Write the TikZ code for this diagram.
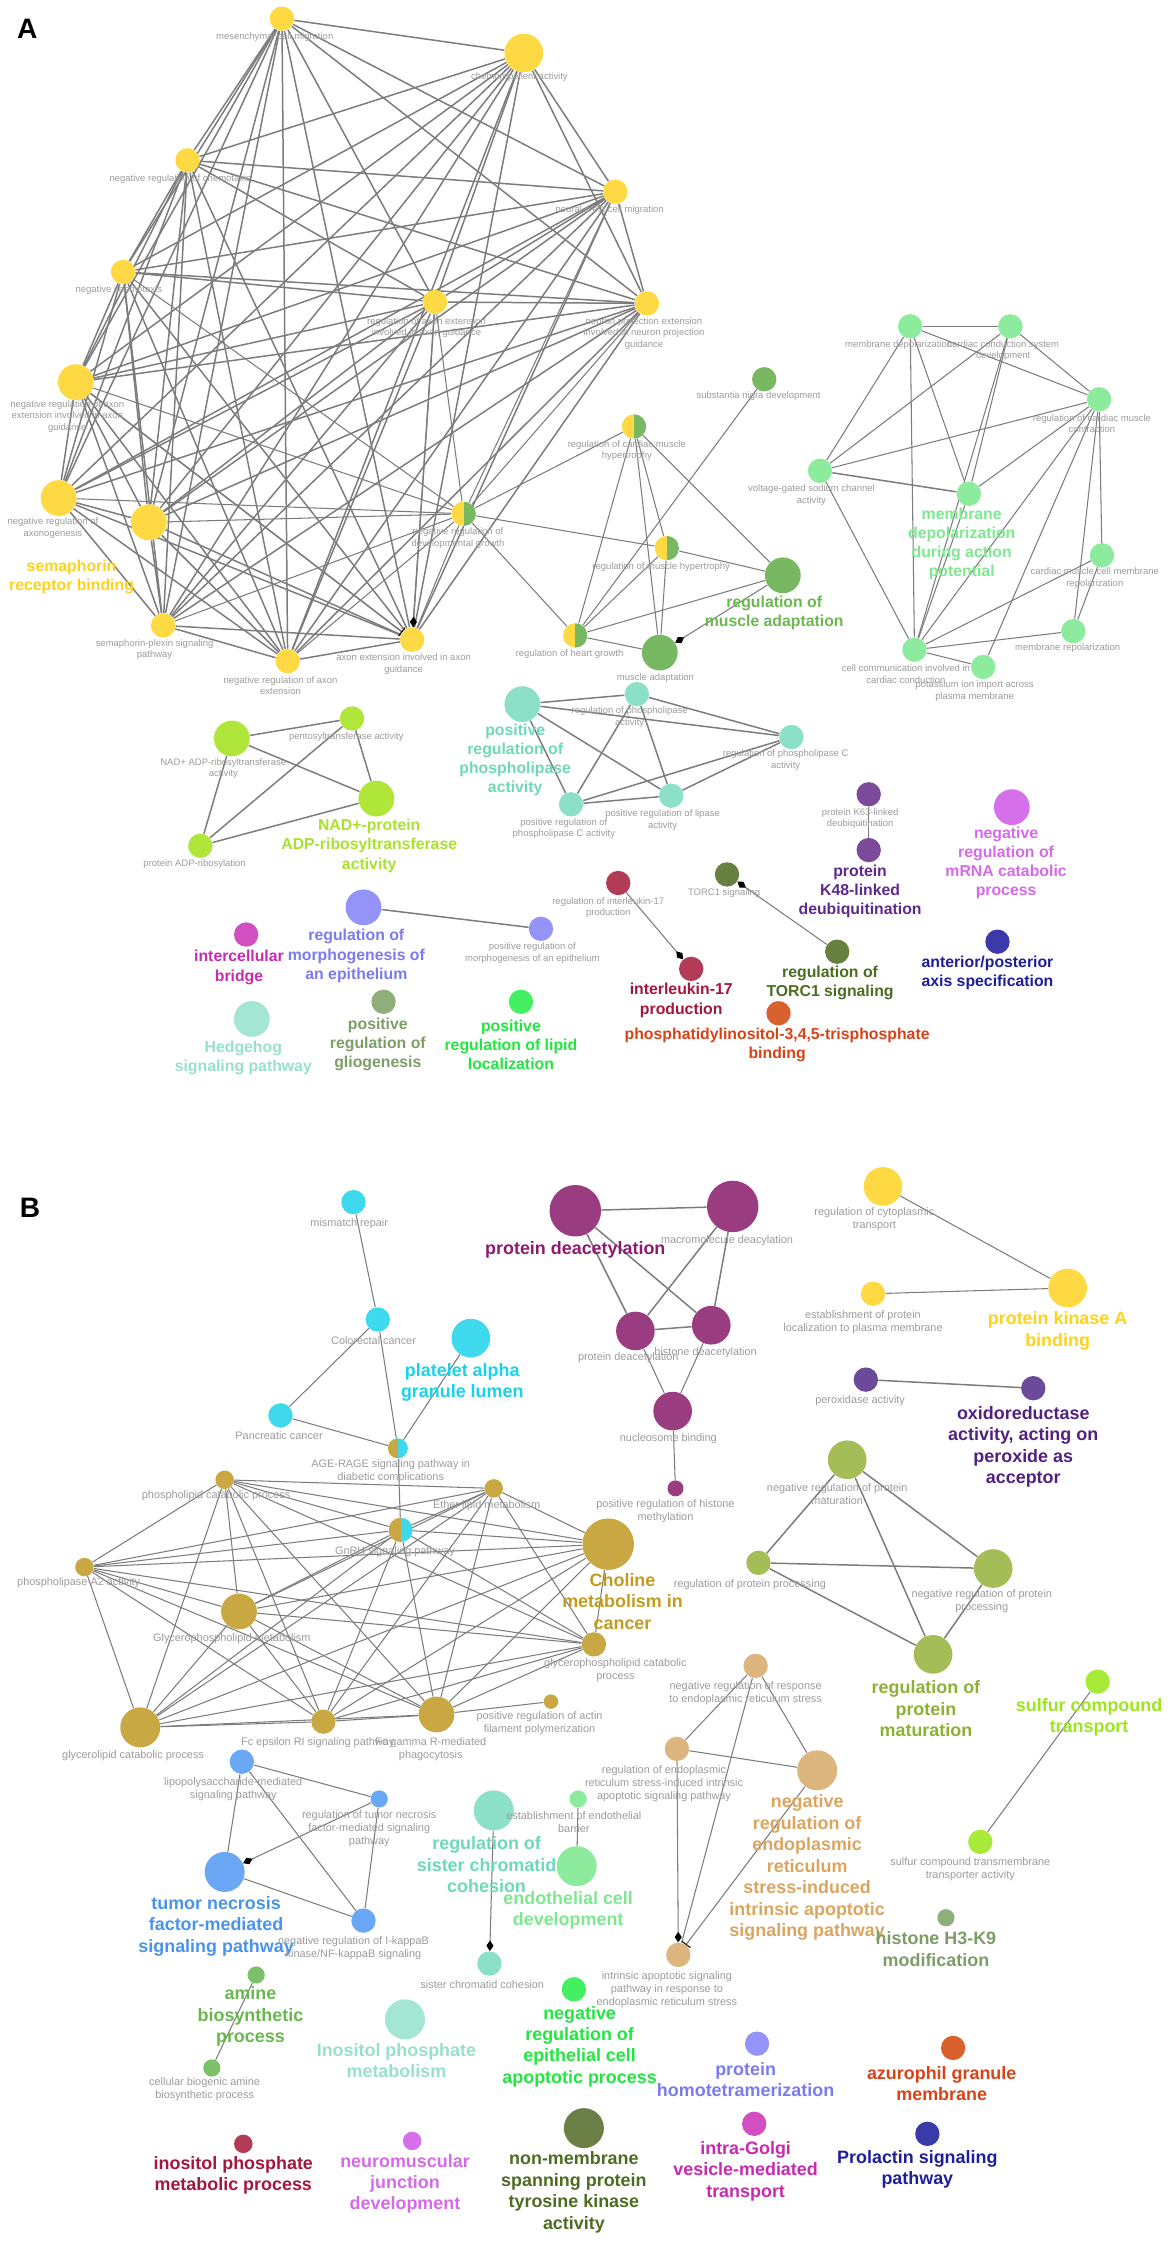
\documentclass[tikz,border=0pt]{standalone}
\usepackage{fontspec}
\setmainfont{Liberation Sans}
\usetikzlibrary{arrows.meta,backgrounds}

\definecolor{edgegray}{HTML}{7C7C7C}
\definecolor{lblgray}{HTML}{9B9B9B}
\definecolor{yel}{HTML}{FFD944}
\definecolor{yelT}{HTML}{FFD21A}
\definecolor{dgr}{HTML}{78B862}
\definecolor{dgrT}{HTML}{6CB850}
\definecolor{lgr}{HTML}{8CEB9C}
\definecolor{lgrT}{HTML}{7DE890}
\definecolor{lim}{HTML}{B0E63A}
\definecolor{limT}{HTML}{A8E22C}
\definecolor{tea}{HTML}{8DE0C8}
\definecolor{teaT}{HTML}{6ED8B8}
\definecolor{kpu}{HTML}{7B4A9B}
\definecolor{kpuT}{HTML}{5B2A8A}
\definecolor{mag}{HTML}{D670EA}
\definecolor{magT}{HTML}{D46AE8}
\definecolor{crm}{HTML}{B23C57}
\definecolor{crmT}{HTML}{A3163D}
\definecolor{olv}{HTML}{66803F}
\definecolor{olvT}{HTML}{4E6B22}
\definecolor{org}{HTML}{D9612E}
\definecolor{orgT}{HTML}{D94216}
\definecolor{nav}{HTML}{3A3AA8}
\definecolor{navT}{HTML}{1E1E99}
\definecolor{per}{HTML}{9393F8}
\definecolor{perT}{HTML}{7B7BEE}
\definecolor{pnk}{HTML}{D14FC0}
\definecolor{pnkT}{HTML}{C72AAE}
\definecolor{hhc}{HTML}{A3E6D3}
\definecolor{hhcT}{HTML}{97E0CB}
\definecolor{ggr}{HTML}{8FAE7C}
\definecolor{ggrT}{HTML}{7C9D66}
\definecolor{brg}{HTML}{44F062}
\definecolor{brgT}{HTML}{22E640}
\definecolor{cyn}{HTML}{3FD9EE}
\definecolor{cynT}{HTML}{18D2EA}
\definecolor{pdp}{HTML}{9A3D80}
\definecolor{pdpT}{HTML}{8C1A6E}
\definecolor{ppu}{HTML}{6B4A9A}
\definecolor{ppuT}{HTML}{52207F}
\definecolor{pmg}{HTML}{A4BD56}
\definecolor{pmgT}{HTML}{8DB035}
\definecolor{gld}{HTML}{C9A843}
\definecolor{gldT}{HTML}{C29C1E}
\definecolor{blu}{HTML}{6AA8F5}
\definecolor{bluT}{HTML}{4A93EA}
\definecolor{tan}{HTML}{DDB57F}
\definecolor{tanT}{HTML}{D9A560}
\definecolor{slf}{HTML}{A8EA3A}
\definecolor{slfT}{HTML}{9CE61E}
\definecolor{ami}{HTML}{7CC06A}
\definecolor{amiT}{HTML}{68B84E}
\definecolor{nmp}{HTML}{6C7F47}

\begin{document}
\begin{tikzpicture}[x=0.02863cm,y=-0.02863cm,
	go/.style={circle,inner sep=0pt,fill=#1},
	hgo/.style 2 args={circle,inner sep=0pt,path picture={
		\fill[#1] (path picture bounding box.south west) rectangle (path picture bounding box.north);
		\fill[#2] (path picture bounding box.south) rectangle (path picture bounding box.north east);}},
	nXS/.style={minimum size=0.344cm},nS/.style={minimum size=0.487cm},
	nM/.style={minimum size=0.716cm},nL/.style={minimum size=0.773cm},nXL/.style={minimum size=1.03cm},
	sa/.style={font=\fontsize{5.4}{6.5}\selectfont,text=lblgray,align=center,inner sep=0pt},
	sb/.style={font=\fontsize{6.2}{7.4}\selectfont,text=lblgray,align=center,inner sep=0pt},
	ba/.style={font=\fontsize{9}{10.9}\selectfont\bfseries,text=#1,align=center,inner sep=0pt},
	bb/.style={font=\fontsize{10.2}{12.2}\selectfont\bfseries,text=#1,align=center,inner sep=0pt},
	lnk/.style={draw=edgegray,line width=0.6pt},
	lnkb/.style={draw=edgegray,line width=0.85pt},
	act/.style={lnk,-{Diamond[black,length=6pt,width=4pt]}},
	inh/.style={lnk,-{Bar[black,width=6pt]}}]
	
	\useasboundingbox (0,0) rectangle (818,1568);
	
	% ---------- panel A
	\node[font=\fontsize{16}{18}\selectfont\bfseries] (pA) at (19,20) {A};
	
	\node[go=yel,nS] (mcm) at (197,13) {};
	\node[go=yel,nL] (cra) at (366,37) {};
	\node[go=yel,nS] (nrc) at (131,112) {};
	\node[go=yel,nS] (ncm) at (430,134) {};
	\node[go=yel,nS] (nch) at (86,190) {};
	\node[go=yel,nS] (rae) at (304,211) {};
	\node[go=yel,nS] (npe) at (452,212) {};
	\node[go=yel,nM] (nraeg) at (53,267) {};
	\node[go=yel,nM] (nrax) at (41,348) {};
	\node[go=yel,nM] (srb) at (104,365) {};
	\node[go=yel,nS] (spp) at (114,437) {};
	\node[go=yel,nS] (nrae) at (201,462) {};
	\node[go=yel,nS] (aeg) at (288,447) {};
	\node[hgo={yel}{dgr},nS] (nrdg) at (324,359) {};
	\node[hgo={yel}{dgr},nS] (rcmh) at (443,298) {};
	\node[hgo={yel}{dgr},nS] (rmh) at (466,383) {};
	\node[hgo={yel}{dgr},nS] (rhg) at (402,444) {};
	\node[go=dgr,nS] (snd) at (534,265) {};
	\node[go=dgr,nM] (rma) at (547,402) {};
	\node[go=dgr,nM] (ma) at (461,456) {};
	
	\node[sa] (lmcm) at (192,26) {mesenchymal cell migration};
	\node[sa] (lcra) at (363,54) {chemorepellent activity};
	\node[sa] (lnrc) at (126,125) {negative regulation of chemotaxis};
	\node[sa] (lncm) at (426,147) {neural crest cell migration};
	\node[sa] (lnch) at (83,203) {negative chemotaxis};
	\node[sa] (lrae) at (298,229) {regulation of axon extension\\involved in axon guidance};
	\node[sa] (lnpe) at (450,233) {neuron projection extension\\involved in neuron projection\\guidance};
	\node[sa] (lnraeg) at (47,291) {negative regulation of axon\\extension involved in axon\\guidance};
	\node[sa] (lnrax) at (37,369) {negative regulation of\\axonogenesis};
	\node[ba=yelT] (lsrb) at (50,403) {semaphorin\\receptor binding};
	\node[sa] (lnrdg) at (320,376) {negative regulation of\\developmental growth};
	\node[sa] (lspp) at (108,454) {semaphorin-plexin signaling\\pathway};
	\node[sa] (lnrae) at (196,479) {negative regulation of axon\\extension};
	\node[sa] (laeg) at (282,464) {axon extension involved in axon\\guidance};
	\node[sa] (lrcmh) at (438,315) {regulation of cardiac muscle\\hypertrophy};
	\node[sa] (lrmh) at (462,396) {regulation of muscle hypertrophy};
	\node[sa] (lrhg) at (398,457) {regulation of heart growth};
	\node[sa] (lsnd) at (530,277) {substantia nigra development};
	\node[ba=dgrT] (lrma) at (541,428) {regulation of\\muscle adaptation};
	\node[sa] (lma) at (458,474) {muscle adaptation};
	
	\node[go=lgr,nS] (md) at (636,228) {};
	\node[go=lgr,nS] (ccs) at (706,228) {};
	\node[go=lgr,nS] (rcmc) at (768,279) {};
	\node[go=lgr,nS] (vgs) at (573,329) {};
	\node[go=lgr,nS] (mdap) at (677,345) {};
	\node[go=lgr,nS] (cmr) at (770,388) {};
	\node[go=lgr,nS] (mr) at (750,441) {};
	\node[go=lgr,nS] (ccc) at (639,454) {};
	\node[go=lgr,nS] (pii) at (687,466) {};
	
	\node[sa] (lmd) at (628,241) {membrane depolarization};
	\node[sa] (lccs) at (701,245) {cardiac conduction system\\development};
	\node[sa] (lrcmc) at (763,296) {regulation of cardiac muscle\\contraction};
	\node[sa] (lvgs) at (567,346) {voltage-gated sodium channel\\activity};
	\node[ba=lgrT] (lmdap) at (672,380) {membrane\\depolarization\\during action\\potential};
	\node[sa] (lcmr) at (765,404) {cardiac muscle cell membrane\\repolarization};
	\node[sa] (lmr) at (746,453) {membrane repolarization};
	\node[sa] (lccc) at (633,471) {cell communication involved in\\cardiac conduction};
	\node[sa] (lpii) at (681,483) {potassium ion import across\\plasma membrane};
	
	\node[go=lim,nM] (nad) at (162,516) {};
	\node[go=lim,nS] (pta) at (246,502) {};
	\node[go=lim,nM] (nadp) at (263,558) {};
	\node[go=lim,nS] (par) at (140,591) {};
	\node[sa] (lnad) at (156,537) {NAD+ ADP-ribosyltransferase\\activity};
	\node[sa] (lpta) at (242,515) {pentosyltransferase activity};
	\node[ba=limT] (lnadp) at (258,591) {NAD+-protein\\ADP-ribosyltransferase\\activity};
	\node[sa] (lpar) at (136,604) {protein ADP-ribosylation};
	
	\node[go=tea,nM] (prpl) at (365,492) {};
	\node[go=tea,nS] (rpl) at (445,485) {};
	\node[go=tea,nS] (rplc) at (553,515) {};
	\node[go=tea,nS] (prplc) at (399,562) {};
	\node[go=tea,nS] (prla) at (469,556) {};
	\node[ba=teaT] (lprpl) at (360,531) {positive\\regulation of\\phospholipase\\activity};
	\node[sa] (lrpl) at (440,501) {regulation of phospholipase\\activity};
	\node[sa] (lrplc) at (549,531) {regulation of phospholipase C\\activity};
	\node[sa] (lprplc) at (394,579) {positive regulation of\\phospholipase C activity};
	\node[sa] (lprla) at (463,573) {positive regulation of lipase\\activity};
	
	\node[go=kpu,nS] (k63) at (607,555) {};
	\node[go=kpu,nS] (k48) at (607,594) {};
	\node[sa] (lk63) at (601,572) {protein K63-linked\\deubiquitination};
	\node[ba=kpuT] (lk48) at (601,623) {protein\\K48-linked\\deubiquitination};
	\node[go=mag,nM] (mrna) at (707,564) {};
	\node[ba=magT] (lmrna) at (703,603) {negative\\regulation of\\mRNA catabolic\\process};
	\node[go=crm,nS] (ril) at (432,617) {};
	\node[go=crm,nS] (il) at (483,677) {};
	\node[sa] (lril) at (425,634) {regulation of interleukin-17\\production};
	\node[ba=crmT] (lil) at (476,699) {interleukin-17\\production};
	\node[go=olv,nS] (torc) at (508,611) {};
	\node[go=olv,nS] (rtorc) at (585,665) {};
	\node[sa] (ltorc) at (506,624) {TORC1 signaling};
	\node[ba=olvT] (lrtorc) at (580,687) {regulation of\\TORC1 signaling};
	\node[go=org,nS] (pip) at (544,708) {};
	\node[ba=orgT] (lpip) at (543,730) {phosphatidylinositol-3,4,5-trisphosphate\\binding};
	\node[go=nav,nS] (aps) at (697,658) {};
	\node[ba=navT] (laps) at (690,680) {anterior/posterior\\axis specification};
	\node[go=per,nM] (rme) at (254,634) {};
	\node[go=per,nS] (prme) at (378,649) {};
	\node[ba=perT] (lrme) at (249,668) {regulation of\\morphogenesis of\\an epithelium};
	\node[sa] (lprme) at (372,666) {positive regulation of\\morphogenesis of an epithelium};
	\node[go=pnk,nS] (icb) at (172,653) {};
	\node[ba=pnkT] (licb) at (167,676) {intercellular\\bridge};
	\node[go=hhc,nM] (hh) at (176,712) {};
	\node[ba=hhcT] (lhh) at (170,739) {Hedgehog\\signaling pathway};
	\node[go=ggr,nS] (prg) at (268,700) {};
	\node[ba=ggrT] (lprg) at (264,730) {positive\\regulation of\\gliogenesis};
	\node[go=brg,nS] (prll) at (364,700) {};
	\node[ba=brgT] (lprll) at (357,730) {positive\\regulation of lipid\\localization};
	
	% ---------- panel B
	\node[font=\fontsize{16}{18}\selectfont\bfseries] (pB) at (21,844) {B};
	
	\node[go=cyn,nS] (mmr) at (247,840) {};
	\node[go=cyn,nS] (crc) at (264,922) {};
	\node[go=cyn,nL] (pagl) at (329,935) {};
	\node[go=cyn,nS] (pc) at (196,989) {};
	\node[hgo={gld}{cyn},minimum size=0.4cm] (ager) at (278,1012) {};
	\node[hgo={gld}{cyn},nS] (gnrh) at (280,1069) {};
	\node[sb] (lmmr) at (244,855) {mismatch repair};
	\node[sb] (lcrc) at (261,937) {Colorectal cancer};
	\node[bb=cynT] (lpagl) at (323,966) {platelet alpha\\granule lumen};
	\node[sb] (lpc) at (195,1003) {Pancreatic cancer};
	\node[sb] (lager) at (273,1028) {AGE-RAGE signaling pathway in\\diabetic complications};
	\node[sb] (lgnrh) at (276,1084) {GnRH signaling pathway};
	
	\node[go=pdp,nXL] (pdb) at (402,846) {};
	\node[go=pdp,nXL] (mcd) at (512,843) {};
	\node[go=pdp,nL] (pds) at (444,930) {};
	\node[go=pdp,nL] (hd) at (497,926) {};
	\node[go=pdp,nL] (nb) at (470,986) {};
	\node[go=pdp,minimum size=0.32cm] (prhm) at (472,1040) {};
	\node[bb=pdpT] (lpdb) at (402,873) {protein deacetylation};
	\node[sb] (lmcd) at (508,867) {macromolecule deacylation};
	\node[sb] (lpds) at (439,949) {protein deacetylation};
	\node[sb] (lhd) at (493,945) {histone deacetylation};
	\node[sb] (lnb) at (467,1005) {nucleosome binding};
	\node[sb] (lprhm) at (465,1056) {positive regulation of histone\\methylation};
	
	\node[go=yel,nL] (rct) at (617,829) {};
	\node[go=yel,nS] (epl) at (610,904) {};
	\node[go=yel,nL] (pka) at (746,900) {};
	\node[sb] (lrct) at (611,852) {regulation of cytoplasmic\\transport};
	\node[sb] (lepl) at (603,924) {establishment of protein\\localization to plasma membrane};
	\node[bb=yelT] (lpka) at (739,930) {protein kinase A\\binding};
	
	\node[go=ppu,nS] (pxa) at (605,964) {};
	\node[go=ppu,nS] (ora) at (722,970) {};
	\node[sb] (lpxa) at (601,979) {peroxidase activity};
	\node[bb=ppuT] (lora) at (715,1011) {oxidoreductase\\activity, acting on\\peroxide as\\acceptor};
	
	\node[go=pmg,nL] (nrpm) at (592,1020) {};
	\node[go=pmg,nS] (rpp) at (530,1092) {};
	\node[go=pmg,nL] (nrpp) at (694,1096) {};
	\node[go=pmg,nL] (rpm) at (652,1156) {};
	\node[sb] (lnrpm) at (585,1044) {negative regulation of protein\\maturation};
	\node[sb] (lrpp) at (524,1107) {regulation of protein processing};
	\node[sb] (lnrpp) at (686,1119) {negative regulation of protein\\processing};
	\node[bb=pmgT] (lrpm) at (647,1194) {regulation of\\protein\\maturation};
	
	\node[go=gld,minimum size=0.37cm] (pcp) at (157,1034) {};
	\node[go=gld,minimum size=0.37cm] (elm) at (345,1040) {};
	\node[go=gld,nXL] (cmc) at (425,1079) {};
	\node[go=gld,minimum size=0.37cm] (pa2) at (59,1095) {};
	\node[go=gld,nM] (gpm) at (167,1126) {};
	\node[go=gld,nS] (gcp) at (415,1149) {};
	\node[go=gld,minimum size=0.8cm] (glcp) at (98,1207) {};
	\node[go=gld,nS] (fce) at (226,1203) {};
	\node[go=gld,nM] (fcg) at (305,1198) {};
	\node[go=gld,minimum size=0.29cm] (pafp) at (385,1189) {};
	\node[sb] (lpcp) at (151,1045) {phospholipid catabolic process};
	\node[sb] (lelm) at (340,1052) {Ether lipid metabolism};
	\node[bb=gldT] (lcmc) at (435,1119) {Choline\\metabolism in\\cancer};
	\node[sb] (lpa2) at (55,1106) {phospholipase A2 activity};
	\node[sb] (lgpm) at (162,1145) {Glycerophospholipid metabolism};
	\node[sb] (lgcp) at (430,1167) {glycerophospholipid catabolic\\process};
	\node[sb] (lglcp) at (93,1227) {glycerolipid catabolic process};
	\node[sb] (lfce) at (222,1218) {Fc epsilon RI signaling pathway};
	\node[sb] (lfcg) at (301,1222) {Fc gamma R-mediated\\phagocytosis};
	\node[sb] (lpafp) at (377,1204) {positive regulation of actin\\filament polymerization};
	
	\node[go=blu,nS] (lps) at (169,1231) {};
	\node[go=blu,nXS] (rtnf) at (265,1257) {};
	\node[go=blu,minimum size=0.8cm] (tnf) at (157,1308) {};
	\node[go=blu,nS] (nrik) at (254,1342) {};
	\node[sb] (llps) at (163,1250) {lipopolysaccharide-mediated\\signaling pathway};
	\node[sb] (lrtnf) at (258,1278) {regulation of tumor necrosis\\factor-mediated signaling\\pathway};
	\node[bb=bluT] (ltnf) at (151,1346) {tumor necrosis\\factor-mediated\\signaling pathway};
	\node[sb] (lnrik) at (247,1361) {negative regulation of I-kappaB\\kinase/NF-kappaB signaling};
	
	\node[go=tea,minimum size=0.8cm] (rscc) at (345,1265) {};
	\node[go=tea,nS] (scc) at (342,1372) {};
	\node[bb=teaT] (lrscc) at (340,1303) {regulation of\\sister chromatid\\cohesion};
	\node[sb] (lscc) at (337,1387) {sister chromatid cohesion};
	\node[go=lgr,nXS] (eeb) at (404,1257) {};
	\node[go=lgr,minimum size=0.8cm] (ecd) at (403,1304) {};
	\node[sb] (leeb) at (401,1273) {establishment of endothelial\\barrier};
	\node[bb=lgrT] (lecd) at (397,1335) {endothelial cell\\development};
	
	\node[go=tan,nS] (nrrer) at (528,1164) {};
	\node[go=tan,nS] (rerai) at (473,1222) {};
	\node[go=tan,minimum size=0.8cm] (nrerai) at (571,1237) {};
	\node[go=tan,nS] (iasr) at (474,1366) {};
	\node[sb] (lnrrer) at (521,1183) {negative regulation of response\\to endoplasmic reticulum stress};
	\node[sb] (lrerai) at (464,1246) {regulation of endoplasmic\\reticulum stress-induced intrinsic\\apoptotic signaling pathway};
	\node[bb=tanT] (lnrerai) at (564,1305) {negative\\regulation of\\endoplasmic\\reticulum\\stress-induced\\intrinsic apoptotic\\signaling pathway};
	\node[sb] (liasr) at (466,1390) {intrinsic apoptotic signaling\\pathway in response to\\endoplasmic reticulum stress};
	
	\node[go=slf,nS] (sct) at (767,1175) {};
	\node[go=slf,nS] (sctt) at (685,1287) {};
	\node[bb=slfT] (lsct) at (761,1200) {sulfur compound\\transport};
	\node[sb] (lsctt) at (678,1306) {sulfur compound transmembrane\\transporter activity};
	\node[go=ggr,nXS] (h3k9) at (661,1340) {};
	\node[bb=ggrT] (lh3k9) at (654,1362) {histone H3-K9\\modification};
	
	\node[go=ami,nXS] (abp) at (179,1380) {};
	\node[go=ami,nXS] (cbab) at (148,1445) {};
	\node[bb=amiT] (labp) at (175,1409) {amine\\biosynthetic\\process};
	\node[sb] (lcbab) at (143,1460) {cellular biogenic amine\\biosynthetic process};
	\node[go=hhc,minimum size=0.8cm] (ipm) at (283,1411) {};
	\node[bb=hhcT] (lipm) at (277,1440) {Inositol phosphate\\metabolism};
	\node[go=brg,nS] (nreca) at (401,1390) {};
	\node[bb=brgT] (lnreca) at (405,1430) {negative\\regulation of\\epithelial cell\\apoptotic process};
	\node[go=per,nS] (pht) at (529,1428) {};
	\node[bb=perT] (lpht) at (521,1453) {protein\\homotetramerization};
	\node[go=org,nS] (agm) at (666,1431) {};
	\node[bb=orgT] (lagm) at (658,1456) {azurophil granule\\membrane};
	\node[go=crm,minimum size=0.37cm] (ipmp) at (170,1498) {};
	\node[bb=crmT] (lipmp) at (163,1520) {inositol phosphate\\metabolic process};
	\node[go=mag,minimum size=0.37cm] (njd) at (288,1496) {};
	\node[bb=magT] (lnjd) at (283,1526) {neuromuscular\\junction\\development};
	\node[go=nmp,minimum size=0.8cm] (nmsp) at (408,1487) {};
	\node[bb=olvT] (lnmsp) at (401,1532) {non-membrane\\spanning protein\\tyrosine kinase\\activity};
	\node[go=pnk,nS] (igv) at (527,1484) {};
	\node[bb=pnkT] (ligv) at (521,1517) {intra-Golgi\\vesicle-mediated\\transport};
	\node[go=nav,nS] (psp) at (648,1491) {};
	\node[bb=navT] (lpsp) at (641,1516) {Prolactin signaling\\pathway};
	
	% ---------- connectors
	\begin{scope}[on background layer]
	\def\ylist{mcm,cra,nrc,ncm,nch,rae,npe,nraeg,nrax,srb,spp,nrae,aeg}
	\foreach \a [count=\i] in \ylist {
		\foreach \b [count=\j] in \ylist {
			\ifnum\j>\i \draw[lnkb] (\a) -- (\b); \fi
		}
	}
	\foreach \a in {nraeg,nrax,srb,spp,nrae,aeg,rae,npe,ncm,nch}
		\draw[lnk] (nrdg) -- (\a);
	\foreach \a/\b in {nrdg/rcmh,nrdg/rmh,nrdg/rhg,rcmh/rmh,rcmh/rhg,rcmh/ma,rcmh/rma,snd/rhg,
		rmh/rma,rmh/ma,rmh/rhg,rhg/ma,rhg/rma}
		\draw[lnk] (\a) -- (\b);
	\draw[act] (rma) -- (ma);
	\draw[act] (rae) -- (aeg);
	\draw[inh] (nraeg) -- (aeg);
	
	\foreach \a/\b in {md/ccs,md/vgs,md/mdap,md/ccc,md/rcmc,ccs/rcmc,ccs/vgs,ccs/ccc,ccs/mdap,
		vgs/rcmc,vgs/ccc,mdap/rcmc,mdap/ccc,rcmc/ccc,rcmc/cmr,rcmc/mr,rcmc/pii,cmr/ccc,
		cmr/mr,mr/ccc,ccc/pii}
		\draw[lnk] (\a) -- (\b);
	\draw[lnkb] (vgs) -- (mdap);
	
	\foreach \a/\b in {nad/pta,nad/nadp,nad/par,pta/nadp,pta/par,nadp/par,
		prpl/rpl,prpl/rplc,prpl/prplc,prpl/prla,rpl/prplc,rpl/prla,rpl/rplc,rplc/prplc,rplc/prla,prplc/prla,
		k63/k48,rme/prme}
		\draw[lnkb] (\a) -- (\b);
	\draw[act] (ril) -- (il);
	\draw[act] (rtorc) -- (torc);
	
	\foreach \a/\b in {mmr/crc,crc/pc,crc/ager,ager/gnrh,pc/ager,pagl/ager}
		\draw[lnk] (\a) -- (\b);
	\foreach \a/\b in {pdb/mcd,pdb/pds,pdb/hd,mcd/pds,mcd/hd,pds/hd,
		pxa/ora,nrpm/rpp,nrpm/nrpp,nrpm/rpm,rpp/nrpp,rpp/rpm,nrpp/rpm}
		\draw[lnkb] (\a) -- (\b);
	\foreach \a/\b in {pds/nb,hd/nb,nb/prhm,rct/pka,epl/pka}
		\draw[lnk] (\a) -- (\b);
	
	\def\glist{pcp,elm,cmc,pa2,gpm,gcp,glcp,fce,fcg,gnrh}
	\foreach \a [count=\i] in \glist {
		\foreach \b [count=\j] in \glist {
			\ifnum\j>\i \draw[lnk] (\a) -- (\b); \fi
		}
	}
	\draw[lnk] (fcg) -- (pafp);
	
	\foreach \a/\b in {lps/tnf,lps/rtnf,lps/nrik,rtnf/nrik,tnf/nrik,eeb/ecd,sct/sctt,abp/cbab,
		nrrer/rerai,nrrer/nrerai,rerai/nrerai,nrrer/iasr}
		\draw[lnk] (\a) -- (\b);
	\draw[act] (rtnf) -- (tnf);
	\draw[act] (rscc) -- (scc);
	\draw[act] (rerai) -- (iasr);
	\draw[inh] (nrerai) -- (iasr);
	\end{scope}
	
\end{tikzpicture}
\end{document}
